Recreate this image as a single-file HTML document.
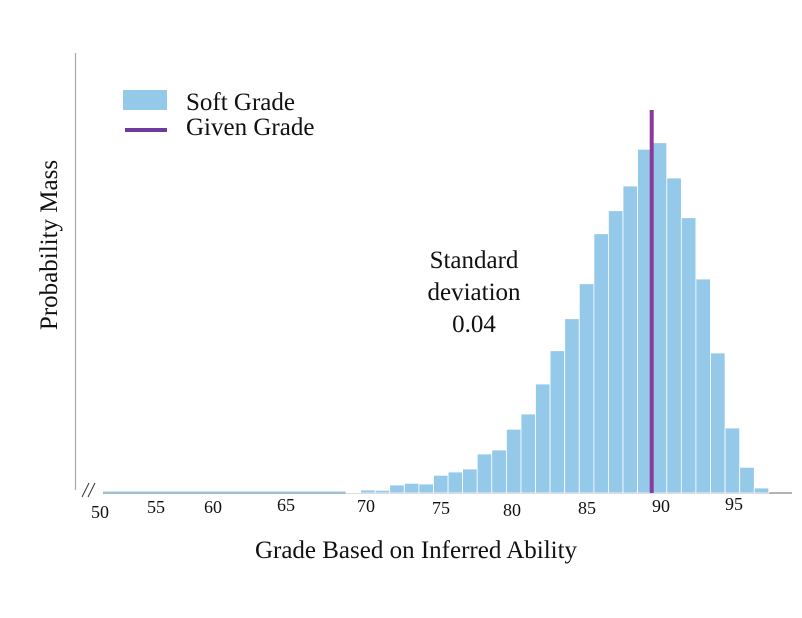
<!DOCTYPE html>
<html><head><meta charset="utf-8"><style>
html,body{margin:0;padding:0;background:#fff;}
svg{display:block;}
text{font-family:"Liberation Serif",serif;fill:#111;}
</style></head><body>
<svg width="802" height="618" viewBox="0 0 802 618" xmlns="http://www.w3.org/2000/svg">
<line x1="75.5" y1="53" x2="75.5" y2="490" stroke="#aaa" stroke-width="1.2"/>
<line x1="103" y1="493" x2="792" y2="493" stroke="#999" stroke-width="1.5"/>
<line x1="82" y1="497" x2="89" y2="483" stroke="#333" stroke-width="1"/>
<line x1="88" y1="497" x2="95" y2="483" stroke="#333" stroke-width="1"/>
<rect x="103" y="491.5" width="243" height="1.5" fill="#95c9e9"/>
<g fill="#95c9e9" stroke="#fff" stroke-width="0.8">
<rect x="346.0" y="492.3" width="14.58" height="0.7"/>
<rect x="360.6" y="490.0" width="14.58" height="3.0"/>
<rect x="375.2" y="490.3" width="14.58" height="2.7"/>
<rect x="389.7" y="485.0" width="14.58" height="8.0"/>
<rect x="404.3" y="483.3" width="14.58" height="9.7"/>
<rect x="418.9" y="484.0" width="14.58" height="9.0"/>
<rect x="433.5" y="475.3" width="14.58" height="17.7"/>
<rect x="448.1" y="472.0" width="14.58" height="21.0"/>
<rect x="462.6" y="469.0" width="14.58" height="24.0"/>
<rect x="477.2" y="454.0" width="14.58" height="39.0"/>
<rect x="491.8" y="450.0" width="14.58" height="43.0"/>
<rect x="506.4" y="429.3" width="14.58" height="63.7"/>
<rect x="521.0" y="414.0" width="14.58" height="79.0"/>
<rect x="535.5" y="384.0" width="14.58" height="109.0"/>
<rect x="550.1" y="350.7" width="14.58" height="142.3"/>
<rect x="564.7" y="318.7" width="14.58" height="174.3"/>
<rect x="579.3" y="283.7" width="14.58" height="209.3"/>
<rect x="593.9" y="233.7" width="14.58" height="259.3"/>
<rect x="608.4" y="210.7" width="14.58" height="282.3"/>
<rect x="623.0" y="186.0" width="14.58" height="307.0"/>
<rect x="637.6" y="149.3" width="14.58" height="343.7"/>
<rect x="652.2" y="142.7" width="14.58" height="350.3"/>
<rect x="666.8" y="178.0" width="14.58" height="315.0"/>
<rect x="681.3" y="217.7" width="14.58" height="275.3"/>
<rect x="695.9" y="279.0" width="14.58" height="214.0"/>
<rect x="710.5" y="353.0" width="14.58" height="140.0"/>
<rect x="725.1" y="428.0" width="14.58" height="65.0"/>
<rect x="739.7" y="467.3" width="14.58" height="25.7"/>
<rect x="754.2" y="488.0" width="14.58" height="5.0"/>
</g>
<rect x="649.7" y="110" width="4" height="383" fill="#8a3a98"/>
<rect x="123" y="90" width="44" height="20" fill="#95c9e9"/>
<rect x="125" y="128" width="42" height="4" fill="#6e3a9e"/>
<text x="186" y="110" font-size="25">Soft Grade</text>
<text x="186" y="135" font-size="25">Given Grade</text>
<text x="474" y="268" font-size="25" text-anchor="middle">Standard</text>
<text x="474" y="300" font-size="25" text-anchor="middle">deviation</text>
<text x="474" y="332" font-size="25" text-anchor="middle">0.04</text>
<text transform="translate(57,245) rotate(-90)" font-size="25" text-anchor="middle">Probability Mass</text>
<text x="416" y="558" font-size="25" text-anchor="middle">Grade Based on Inferred Ability</text>
<g font-size="18" text-anchor="middle">
<text x="100" y="518">50</text><text x="156" y="513">55</text><text x="213" y="513">60</text>
<text x="286" y="511">65</text><text x="366" y="512">70</text><text x="441" y="514">75</text>
<text x="512" y="516">80</text><text x="587" y="514">85</text><text x="661" y="512">90</text>
<text x="734" y="510">95</text>
</g>
</svg>
</body></html>
